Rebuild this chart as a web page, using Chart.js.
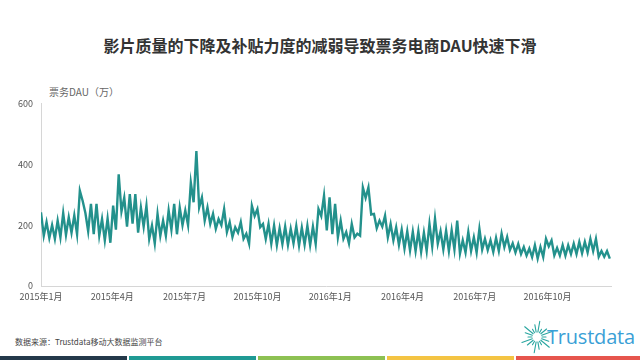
<!DOCTYPE html>
<html>
<head>
<meta charset="utf-8">
<script src="https://cdn.jsdelivr.net/npm/chart.js@4.4.0/dist/chart.umd.min.js"></script>
<style>
body { margin: 0; width: 640px; height: 360px; background: #fff; position: relative; overflow: hidden;
       font-family: "Noto Sans CJK SC", "Noto Sans", sans-serif; }
#title { position: absolute; top: 33px; left: 0; width: 640px; text-align: center; font-size: 16px;
         font-weight: bold; color: #333; }
#ytitle { position: absolute; top: 84px; left: 49px; font-size: 10px; color: #666; }
#box { position: absolute; left: 0; top: 90px; width: 640px; height: 220px; }
#source { position: absolute; left: 15px; top: 336px; font-size: 8px; color: #444; }
#logo { position: absolute; left: 520px; top: 318px; width: 120px; height: 38px; }
#logo span { position: absolute; left: 27px; top: 5px; font-family: "Open Sans", sans-serif; font-size: 20px;
             color: #3a9fd6; letter-spacing: -0.2px; }
.bar { position: absolute; top: 356px; height: 4px; }
</style>
</head>
<body>
<div id="title">影片质量的下降及补贴力度的减弱导致票务电商DAU快速下滑</div>
<div id="ytitle">票务DAU（万）</div>
<div id="box"><canvas id="dauChart"></canvas></div>
<div id="source">数据来源：Trustdata移动大数据监测平台</div>
<div id="logo">
  <svg width="34" height="38" viewBox="0 0 34 38" style="position:absolute;left:0;top:0">
    <g stroke="#2aa6a0" stroke-width="1.1" stroke-linecap="round" id="rays"></g>
  </svg>
  <span>Trustdata</span>
</div>
<div class="bar" style="left:0;width:127px;background:#24394a"></div>
<div class="bar" style="left:129px;width:127px;background:#1f9a94"></div>
<div class="bar" style="left:258px;width:127px;background:#8dc153"></div>
<div class="bar" style="left:387px;width:127px;background:#f4c443"></div>
<div class="bar" style="left:516px;width:124px;background:#e6554d"></div>
<script>
// weekly weekend peaks and weekday lows (万), Jan 2015 - Dec 2016
const weekPeak = [
  242, 210, 200, 215, 240, 226, 232, 313, 240, 270,
  270, 220, 222, 264, 367, 290, 302, 302, 258, 264,
  199, 237, 215, 248, 270, 258, 248, 340, 443, 291,
  258, 237, 220, 253, 210, 193, 210, 172, 264, 253,
  204, 204, 199, 190, 195, 188, 197, 192, 198, 195,
  253, 297, 291, 270, 215, 177, 204, 172, 324, 324,
  237, 215, 231, 204, 193, 185, 180, 178, 180, 175,
  204, 221, 180, 182, 183, 215, 150, 177, 160, 188,
  155, 150, 158, 172, 161, 140, 138, 128, 123, 134,
  128, 155, 150, 125, 134, 134, 139, 145, 145, 155,
  155, 115, 115
];
const weekLow = [
  165, 158, 155, 160, 168, 175, 170, 280, 180, 170,
  165, 150, 142, 185, 245, 195, 205, 175, 195, 155,
  140, 165, 165, 185, 170, 200, 200, 275, 258, 215,
  204, 188, 200, 177, 161, 175, 155, 139, 230, 193,
  155, 139, 134, 138, 135, 140, 133, 136, 134, 138,
  230, 183, 170, 160, 155, 140, 160, 165, 290, 235,
  190, 195, 160, 150, 135, 123, 117, 115, 112, 115,
  130, 139, 120, 115, 120, 107, 110, 115, 110, 120,
  118, 112, 115, 128, 118, 110, 105, 100, 95, 90,
  95, 130, 101, 100, 100, 105, 105, 108, 110, 115,
  96, 96, 90
];
const tickDays = [0, 90, 181, 273, 365, 456, 547, 639];
const tickLabels = ['2015年1月', '2015年4月', '2015年7月', '2015年10月', '2016年1月', '2016年4月', '2016年7月', '2016年10月'];

const points = [];
weekPeak.forEach((p, w) => {
  points.push({ x: w * 7, y: p });
  points.push({ x: w * 7 + 3.5, y: weekLow[w] });
});

// logo rays
const rays = document.getElementById('rays');
for (let i = 0; i < 18; i++) {
  const a = i / 18 * Math.PI * 2;
  const r1 = 5, r2 = 9 + (i % 3) * 3.5;
  const l = document.createElementNS('http://www.w3.org/2000/svg', 'line');
  l.setAttribute('x1', 17 + r1 * Math.cos(a)); l.setAttribute('y1', 19 + r1 * Math.sin(a));
  l.setAttribute('x2', 17 + r2 * Math.cos(a)); l.setAttribute('y2', 19 + r2 * Math.sin(a));
  rays.appendChild(l);
}

const tickFont = { family: '"Noto Sans CJK SC", "Noto Sans", sans-serif', size: 9 };

new Chart(document.getElementById('dauChart'), {
  type: 'line',
  data: {
    datasets: [{
      label: '票务DAU',
      data: points,
      borderColor: '#23918c',
      borderWidth: 2.4,
      pointRadius: 0,
      tension: 0,
      fill: false
    }]
  },
  options: {
    responsive: true,
    maintainAspectRatio: false,
    animation: false,
    layout: { padding: { top: 12, right: 29, left: 0, bottom: 0 } },
    plugins: { legend: { display: false }, tooltip: { enabled: false } },
    scales: {
      x: {
        type: 'linear',
        min: 0,
        max: 719,
        grid: { display: false, drawTicks: false },
        border: { display: true, color: '#d6d6d6', width: 1 },
        afterBuildTicks: (scale) => { scale.ticks = tickDays.map(v => ({ value: v })); },
        afterFit: (scale) => { scale.height = 24; },
        ticks: {
          padding: 5,
          color: '#555',
          font: tickFont,
          maxRotation: 0,
          autoSkip: false,
          callback: (v) => tickLabels[tickDays.indexOf(v)]
        }
      },
      y: {
        min: 0,
        max: 600,
        grid: { display: false, drawTicks: false },
        border: { display: true, color: '#d6d6d6', width: 1 },
        afterFit: (scale) => { scale.width = 41; },
        ticks: { stepSize: 200, padding: 8, color: '#555', font: tickFont }
      }
    }
  }
});
</script>
</body>
</html>
